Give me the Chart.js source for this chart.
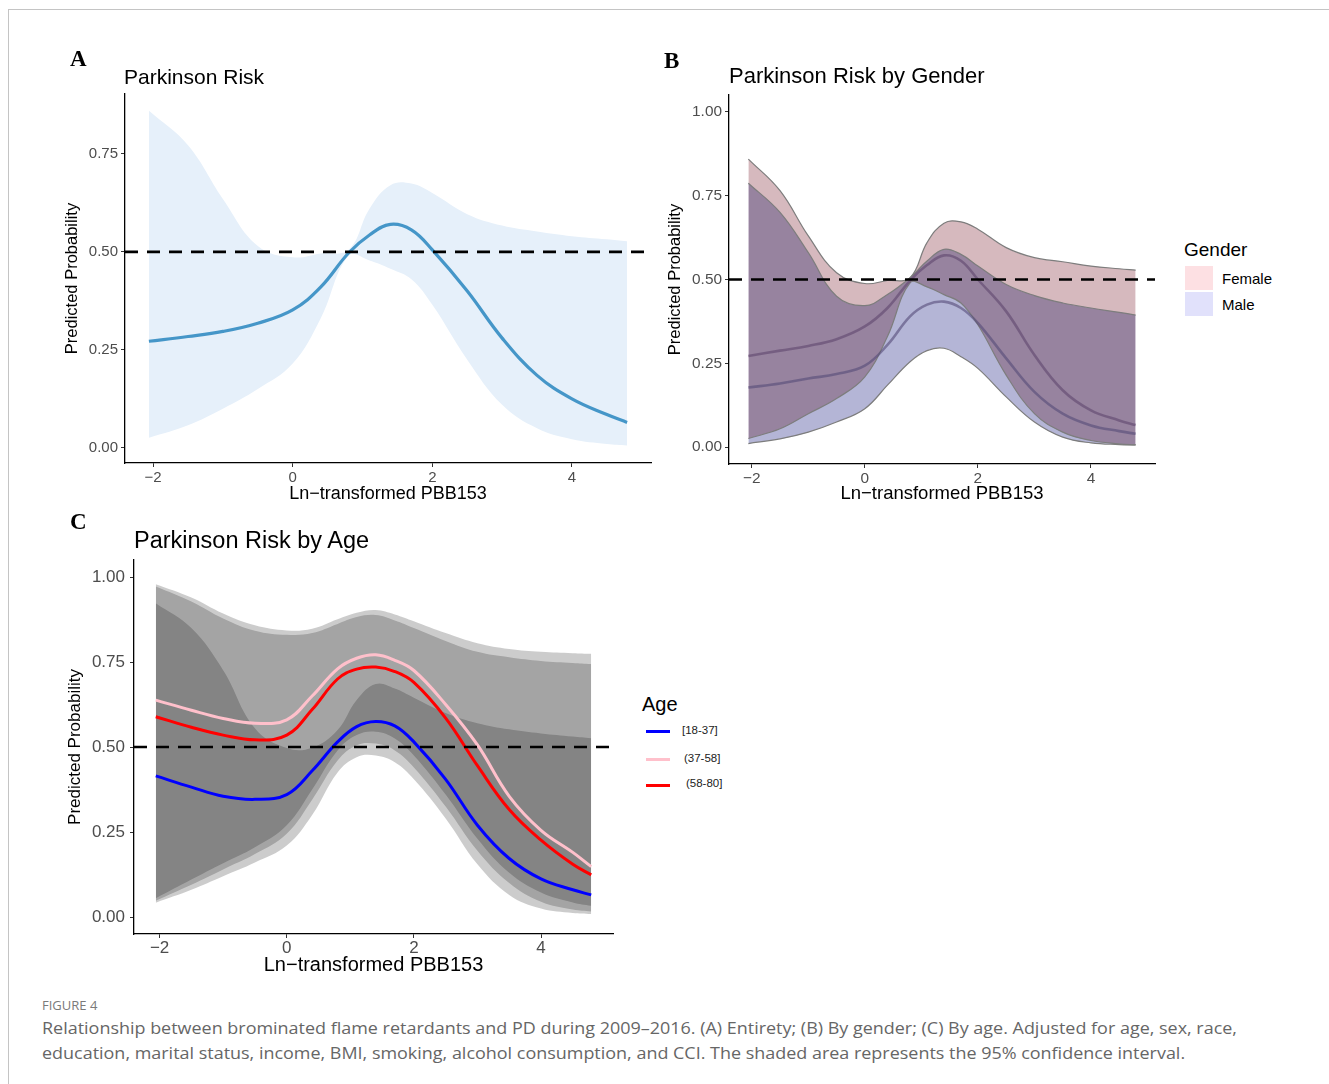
<!DOCTYPE html>
<html>
<head>
<meta charset="utf-8">
<script src="https://cdn.jsdelivr.net/npm/chart.js@4.4.1/dist/chart.umd.min.js"></script>
<style>
  body { margin: 0; width: 1329px; height: 1084px; background: #fff; position: relative; overflow: hidden;
         font-family: "Liberation Sans", Arial, sans-serif; }
  .frame { position: absolute; left: 8px; top: 9px; width: 1400px; height: 1200px;
           border-top: 1px solid #c4c4c4; border-left: 1px solid #c4c4c4; }
  canvas { position: absolute; }
  .t { position: absolute; white-space: nowrap; line-height: 1; transform: translateY(-50%); color: #000; }
  .letter { font-family: "Liberation Serif", "Times New Roman", serif; font-weight: bold; font-size: 23px; }
  .key { position: absolute; }
  .cap { position: absolute; left: 42px; white-space: nowrap; font-family: "Open Sans", sans-serif; color: #666;
         transform-origin: left center; }
</style>
</head>
<body>
<div class="frame"></div>

<canvas id="chartA" width="596" height="455" style="left:60px; top:55px;"></canvas>
<canvas id="chartB" width="505" height="455" style="left:655px; top:55px;"></canvas>
<canvas id="chartC" width="558" height="460" style="left:60px; top:525px;"></canvas>

<!-- panel letters and titles -->
<div class="t letter" style="left:70px; top:58px;">A</div>
<div class="t letter" style="left:664px; top:60px;">B</div>
<div class="t letter" style="left:70px; top:521px;">C</div>
<div class="t" style="left:124px; top:76px; font-size:21px;">Parkinson Risk</div>
<div class="t" style="left:729px; top:76px; font-size:22px;">Parkinson Risk by Gender</div>
<div class="t" style="left:134px; top:541px; font-size:23.5px;">Parkinson Risk by Age</div>

<!-- legend B -->
<div class="t" style="left:1184px; top:249px; font-size:19px;">Gender</div>
<div class="key" style="left:1185px; top:266px; width:28px; height:24px; background:#fde0e3;"></div>
<div class="key" style="left:1185px; top:292px; width:28px; height:24px; background:#e1e1fb;"></div>
<div class="t" style="left:1222px; top:278px; font-size:15px;">Female</div>
<div class="t" style="left:1222px; top:304px; font-size:15px;">Male</div>

<!-- legend C -->
<div class="t" style="left:642px; top:704px; font-size:20px;">Age</div>
<div class="key" style="left:646px; top:730px; width:24px; height:3px; background:blue;"></div>
<div class="key" style="left:646px; top:758px; width:24px; height:3px; background:pink;"></div>
<div class="key" style="left:646px; top:784px; width:24px; height:3px; background:red;"></div>
<div class="t" style="left:682px; top:731px; font-size:11.5px; color:#222;">[18-37]</div>
<div class="t" style="left:684px; top:759px; font-size:11.5px; color:#222;">(37-58]</div>
<div class="t" style="left:686px; top:784px; font-size:11.5px; color:#222;">(58-80]</div>

<!-- caption -->
<div class="cap" style="top:996px; font-size:13px; color:#7a7a7a;">FIGURE 4</div>
<div class="cap" id="cap1" style="top:1016px; font-size:17px;">Relationship between brominated flame retardants and PD during 2009–2016. (A) Entirety; (B) By gender; (C) By age. Adjusted for age, sex, race,</div>
<div class="cap" id="cap2" style="top:1041px; font-size:17px;">education, marital status, income, BMI, smoking, alcohol consumption, and CCI. The shaded area represents the 95% confidence interval.</div>

<script>
// Ln-transformed PBB153 values where the curves were read
const xGrid = [-2.06, -1.5, -1, -0.5, 0, 0.4, 0.8, 1.1, 1.4, 1.7, 2, 2.5, 3, 3.5, 4, 4.5, 4.79];

// tick labels
const xTicks = [-2, 0, 2, 4];
const yTicksA = [0, 0.25, 0.5, 0.75];
const yTicksBC = [0, 0.25, 0.5, 0.75, 1];
const refLevel = 0.5;

// A: whole sample
const riskFit =   [0.272, 0.284, 0.297, 0.318, 0.352, 0.41, 0.497, 0.543, 0.57, 0.556, 0.505, 0.40, 0.28, 0.185, 0.125, 0.085, 0.065];
const riskUpper = [0.86, 0.772, 0.635, 0.515, 0.486, 0.496, 0.505, 0.61, 0.67, 0.674, 0.65, 0.596, 0.567, 0.552, 0.54, 0.532, 0.527];
const riskLower = [0.026, 0.058, 0.10, 0.15, 0.215, 0.33, 0.49, 0.478, 0.457, 0.43, 0.365, 0.225, 0.11, 0.05, 0.022, 0.01, 0.006];

// B: by gender
const femaleFit =   [0.272, 0.288, 0.302, 0.322, 0.36, 0.415, 0.497, 0.543, 0.572, 0.556, 0.50, 0.405, 0.275, 0.17, 0.11, 0.08, 0.066];
const femaleUpper = [0.859, 0.765, 0.63, 0.52, 0.488, 0.497, 0.505, 0.61, 0.668, 0.672, 0.65, 0.595, 0.565, 0.553, 0.54, 0.532, 0.528];
const femaleLower = [0.026, 0.055, 0.10, 0.145, 0.21, 0.33, 0.49, 0.478, 0.455, 0.43, 0.365, 0.215, 0.10, 0.045, 0.02, 0.01, 0.007];
const maleFit =     [0.178, 0.19, 0.205, 0.218, 0.243, 0.305, 0.39, 0.425, 0.434, 0.415, 0.37, 0.265, 0.165, 0.10, 0.065, 0.048, 0.04];
const maleUpper =   [0.787, 0.70, 0.58, 0.45, 0.422, 0.455, 0.505, 0.555, 0.59, 0.575, 0.54, 0.485, 0.452, 0.43, 0.415, 0.402, 0.394];
const maleLower =   [0.011, 0.025, 0.045, 0.075, 0.115, 0.185, 0.255, 0.288, 0.295, 0.27, 0.235, 0.15, 0.075, 0.03, 0.013, 0.008, 0.007];

// C: by age group
const youngFit =   [0.415, 0.382, 0.355, 0.346, 0.36, 0.43, 0.515, 0.56, 0.575, 0.562, 0.515, 0.405, 0.27, 0.172, 0.112, 0.08, 0.065];
const youngUpper = [0.923, 0.85, 0.726, 0.555, 0.497, 0.498, 0.55, 0.638, 0.685, 0.672, 0.645, 0.60, 0.57, 0.552, 0.54, 0.531, 0.526];
const youngLower = [0.042, 0.08, 0.12, 0.16, 0.21, 0.30, 0.425, 0.47, 0.475, 0.455, 0.405, 0.29, 0.155, 0.065, 0.025, 0.012, 0.009];
const midFit =     [0.638, 0.608, 0.584, 0.57, 0.58, 0.65, 0.73, 0.761, 0.771, 0.755, 0.725, 0.625, 0.506, 0.355, 0.255, 0.19, 0.148];
const midUpper =   [0.979, 0.94, 0.893, 0.858, 0.843, 0.848, 0.876, 0.895, 0.903, 0.89, 0.87, 0.835, 0.805, 0.788, 0.78, 0.776, 0.774];
const midLower =   [0.055, 0.11, 0.158, 0.205, 0.27, 0.375, 0.49, 0.535, 0.545, 0.525, 0.475, 0.36, 0.23, 0.13, 0.072, 0.043, 0.033];
const oldFit =     [0.589, 0.558, 0.535, 0.521, 0.535, 0.61, 0.70, 0.729, 0.735, 0.722, 0.69, 0.585, 0.445, 0.316, 0.226, 0.155, 0.124];
const oldUpper =   [0.972, 0.928, 0.878, 0.842, 0.83, 0.835, 0.862, 0.882, 0.888, 0.872, 0.85, 0.812, 0.78, 0.764, 0.753, 0.747, 0.744];
const oldLower =   [0.048, 0.095, 0.14, 0.185, 0.245, 0.345, 0.46, 0.505, 0.51, 0.49, 0.44, 0.325, 0.195, 0.10, 0.045, 0.022, 0.016];

// axis limits (ggplot adds 5% on each side)
const xLimits = [-2.4025, 5.1325];
const yLimitsA = [-0.0385, 0.9025];
const yLimitsBC = [-0.05, 1.05];

function pts(ys) {
    return ys.map((y, i) => ({ x: xGrid[i], y: y }));
}

function curve(ys, color, width, order, extra) {
    return Object.assign({
        data: pts(ys),
        borderColor: color,
        borderWidth: width,
        pointRadius: 0,
        fill: false,
        tension: 0.4,
        order: order
    }, extra || {});
}

function refLine() {
    return {
        data: [{ x: xLimits[0], y: refLevel }, { x: xLimits[1], y: refLevel }],
        borderColor: '#000',
        borderWidth: 2.6,
        borderDash: [13, 9],
        pointRadius: 0,
        fill: false,
        order: 0
    };
}

function axes(o) {
    return {
        x: {
            type: 'linear', min: xLimits[0], max: xLimits[1],
            afterBuildTicks: s => { s.ticks = xTicks.map(v => ({ value: v })); },
            afterFit: s => { s.height = o.xh; },
            ticks: {
                autoSkip: false, maxRotation: 0, padding: o.xtp, color: '#4d4d4d',
                font: { size: o.tick },
                callback: v => String(v).replace('-', '\u2212')
            },
            grid: { drawOnChartArea: false, tickLength: 4, color: '#333', lineWidth: 1 },
            border: { color: '#000', width: 1.3 },
            title: {
                display: true, text: 'Ln\u2212transformed PBB153', color: '#000',
                font: { size: o.xt }, padding: { top: 0, bottom: o.xp }
            }
        },
        y: {
            type: 'linear', min: o.yl[0], max: o.yl[1],
            afterBuildTicks: s => { s.ticks = o.yt.map(v => ({ value: v })); },
            afterFit: s => { s.width = o.yw; },
            ticks: {
                autoSkip: false, padding: o.yp, color: '#4d4d4d',
                font: { size: o.tick },
                callback: v => v.toFixed(2)
            },
            grid: { drawOnChartArea: false, tickLength: 4, color: '#333', lineWidth: 1 },
            border: { color: '#000', width: 1.3 },
            title: {
                display: true, text: 'Predicted Probability', color: '#000',
                font: { size: o.ytf }, padding: { top: o.ytp, bottom: 0 }
            }
        }
    };
}

function baseOptions(pad, scales) {
    return {
        responsive: false,
        animation: false,
        events: [],
        layout: { autoPadding: false, padding: pad },
        plugins: {
            legend: { display: false },
            tooltip: { enabled: false },
            filler: { drawTime: 'beforeDatasetsDraw' }
        },
        scales: scales
    };
}

Chart.defaults.font.family = '"Liberation Sans", Arial, sans-serif';

// A
new Chart(document.getElementById('chartA'), {
    type: 'line',
    data: {
        datasets: [
            refLine(),
            curve(riskFit, '#4596c8', 3.2, 1),
            curve(riskLower, 'rgba(0,0,0,0)', 0, 3),
            curve(riskUpper, 'rgba(0,0,0,0)', 0, 2, { fill: '-1', backgroundColor: '#e6f0fa' })
        ]
    },
    options: baseOptions({ top: 39, right: 5, left: 0, bottom: 0 },
        axes({ xh: 47, yw: 65, tick: 15, xtp: 2, xt: 18, xp: 5, yl: yLimitsA, yt: yTicksA, yp: 3, ytf: 16.5, ytp: 3 }))
});

// B - the two bands are blended with multiply so the overlap turns purple
const multiplyFills = {
    id: 'multiplyFills',
    beforeDraw(chart) { chart.ctx.globalCompositeOperation = 'multiply'; },
    beforeDatasetsDraw(chart) { chart.ctx.globalCompositeOperation = 'source-over'; }
};

const bandEdge = '#7d7d7d';
new Chart(document.getElementById('chartB'), {
    type: 'line',
    data: {
        datasets: [
            refLine(),
            curve(femaleFit, 'rgba(95,70,110,0.6)', 2.6, 1),
            curve(maleFit, 'rgba(85,75,120,0.6)', 2.6, 1),
            curve(femaleLower, bandEdge, 1.2, 2),
            curve(femaleUpper, bandEdge, 1.2, 2, { fill: '-1', backgroundColor: 'rgb(214,185,190)' }),
            curve(maleLower, bandEdge, 1.2, 2),
            curve(maleUpper, bandEdge, 1.2, 2, { fill: '-1', backgroundColor: 'rgb(180,181,214)' })
        ]
    },
    options: baseOptions({ top: 40, right: 5, left: 0, bottom: 0 },
        axes({ xh: 46, yw: 74, tick: 15.4, xtp: 2, xt: 18.5, xp: 5, yl: yLimitsBC, yt: yTicksBC, yp: 3, ytf: 16.5, ytp: 11 })),
    plugins: [multiplyFills]
});

// C
const ageBand = 'rgba(0,0,0,0.2)';
new Chart(document.getElementById('chartC'), {
    type: 'line',
    data: {
        datasets: [
            refLine(),
            curve(youngFit, 'blue', 3, 1),
            curve(midFit, 'pink', 3, 1),
            curve(oldFit, 'red', 3, 1),
            curve(youngLower, 'rgba(0,0,0,0)', 0, 2),
            curve(youngUpper, 'rgba(0,0,0,0)', 0, 2, { fill: '-1', backgroundColor: ageBand }),
            curve(midLower, 'rgba(0,0,0,0)', 0, 2),
            curve(midUpper, 'rgba(0,0,0,0)', 0, 2, { fill: '-1', backgroundColor: ageBand }),
            curve(oldLower, 'rgba(0,0,0,0)', 0, 2),
            curve(oldUpper, 'rgba(0,0,0,0)', 0, 2, { fill: '-1', backgroundColor: ageBand })
        ]
    },
    options: baseOptions({ top: 35, right: 5, left: 0, bottom: 0 },
        axes({ xh: 51, yw: 74, tick: 17, xtp: 0, xt: 20, xp: 8, yl: yLimitsBC, yt: yTicksBC, yp: 5, ytf: 17, ytp: 5 }))
});

// squeeze caption to the width used in the figure
const cap1 = document.getElementById('cap1');
const squeeze = 1195 / cap1.getBoundingClientRect().width;
cap1.style.transform = 'scaleX(' + squeeze + ')';
document.getElementById('cap2').style.transform = 'scaleX(' + squeeze + ')';
</script>
</body>
</html>
